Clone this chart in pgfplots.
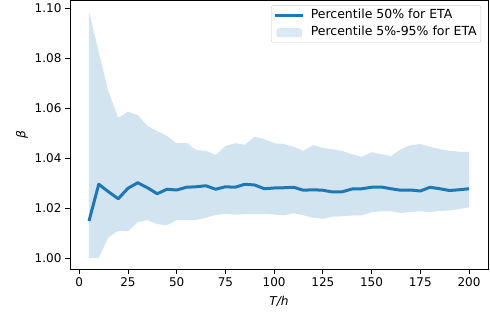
\documentclass[border=0pt]{standalone}
\usepackage{fontspec}
\setmainfont{DejaVu Sans}
\usepackage{pgfplots}
\pgfplotsset{compat=1.18}
\usepackage{pgfplotstable}
\usepgfplotslibrary{fillbetween}
\definecolor{mplblue}{HTML}{1F77B4}
\definecolor{band}{RGB}{210,228,240}
\pgfplotstableread{
T med lo hi
5 1.0148 1.0001 1.0985
10 1.0295 1.0001 1.0825
15 1.0265 1.0083 1.0665
20 1.0237 1.0109 1.0561
25 1.0279 1.0107 1.0585
30 1.0301 1.0143 1.0572
35 1.0281 1.0152 1.0528
40 1.0257 1.0136 1.0508
45 1.0275 1.0131 1.0488
50 1.0272 1.0152 1.0459
55 1.0283 1.0153 1.0461
60 1.0285 1.0152 1.0432
65 1.0289 1.0161 1.0428
70 1.0275 1.0172 1.0412
75 1.0285 1.0177 1.0448
80 1.0283 1.0173 1.0459
85 1.0295 1.0175 1.0453
90 1.0292 1.0176 1.0485
95 1.0277 1.0176 1.0475
100 1.0280 1.0174 1.0459
105 1.0281 1.0171 1.0456
110 1.0283 1.0179 1.0445
115 1.0271 1.0171 1.0429
120 1.0273 1.0161 1.0452
125 1.0271 1.0157 1.0440
130 1.0264 1.0165 1.0435
135 1.0265 1.0167 1.0428
140 1.0276 1.0170 1.0415
145 1.0277 1.0171 1.0405
150 1.0283 1.0183 1.0423
155 1.0284 1.0187 1.0415
160 1.0277 1.0187 1.0408
165 1.0271 1.0180 1.0435
170 1.0272 1.0184 1.0451
175 1.0268 1.0187 1.0456
180 1.0283 1.0184 1.0445
185 1.0277 1.0188 1.0435
190 1.0270 1.0190 1.0429
195 1.0273 1.0196 1.0425
200 1.0277 1.0203 1.0424
}\data
\begin{document}
\begin{tikzpicture}
\begin{axis}[
  at={(0pt,0pt)}, anchor=south west,
  scale only axis, width=418pt, height=268.5pt,
  xmin=-4.75, xmax=209.75, ymin=0.9956, ymax=1.103,
  xtick={0,25,...,200},
  ytick={1.00,1.02,1.04,1.06,1.08,1.10},
  yticklabel style={/pgf/number format/fixed, /pgf/number format/fixed zerofill, /pgf/number format/precision=2, xshift=-0.5pt},
  /pgf/number format/assume math mode=true,
  tick pos=left, tick align=outside,
  major tick length=4.5pt,
  every tick/.style={black, line width=0.8pt},
  axis line style={black, line width=0.8pt},
  ticklabel style={font=\fontsize{12}{14}\selectfont},
  xticklabel style={yshift=-0.5pt},
  xlabel={\textit{T/h}}, ylabel={\textit{β}},
  every axis x label/.style={at={(axis description cs:0.5,-0.119)}, anchor=center, font=\fontsize{12.2}{14}\selectfont},
  every axis y label/.style={at={(axis description cs:-0.115,0.5)}, anchor=center, rotate=90, font=\fontsize{12.2}{14}\selectfont},
  legend style={at={(axis description cs:1,1)}, anchor=north east, xshift=-7pt, yshift=-5pt,
    draw=black!20, rounded corners=2pt, fill=white, fill opacity=0.8, text opacity=1,
    font=\fontsize{12.5}{14}\selectfont, inner xsep=2.5pt, inner ysep=2pt, row sep=2.6pt,
    nodes={text height=9pt, text depth=3pt, inner sep=1.5pt}},
  legend cell align=left,
]
\addlegendimage{legend image code/.code={\draw[line width=3pt, color=mplblue] (0pt,0pt) -- (28pt,0pt); \path[draw=none, fill=none] (0pt,0pt) rectangle (34pt,0pt);}}
\addlegendentry{Percentile 50\% for ETA}
\addlegendimage{legend image code/.code={\fill[band] (1.5pt,-4.2pt) rectangle (26.5pt,4.2pt); \path[draw=none, fill=none] (0pt,0pt) rectangle (34pt,0pt);}}
\addlegendentry{Percentile 5\%-95\% for ETA}
\addplot[draw=none, name path=hi, forget plot] table[x=T, y=hi] {\data};
\addplot[draw=none, name path=lo, forget plot] table[x=T, y=lo] {\data};
\addplot[fill=band, draw=none, forget plot] fill between[of=hi and lo];
\addplot[mplblue, line width=3pt, line join=round, forget plot] table[x=T, y=med] {\data};
\end{axis}
\path (-70pt,-47pt) rectangle (420pt,269pt);
\end{tikzpicture}
\end{document}
